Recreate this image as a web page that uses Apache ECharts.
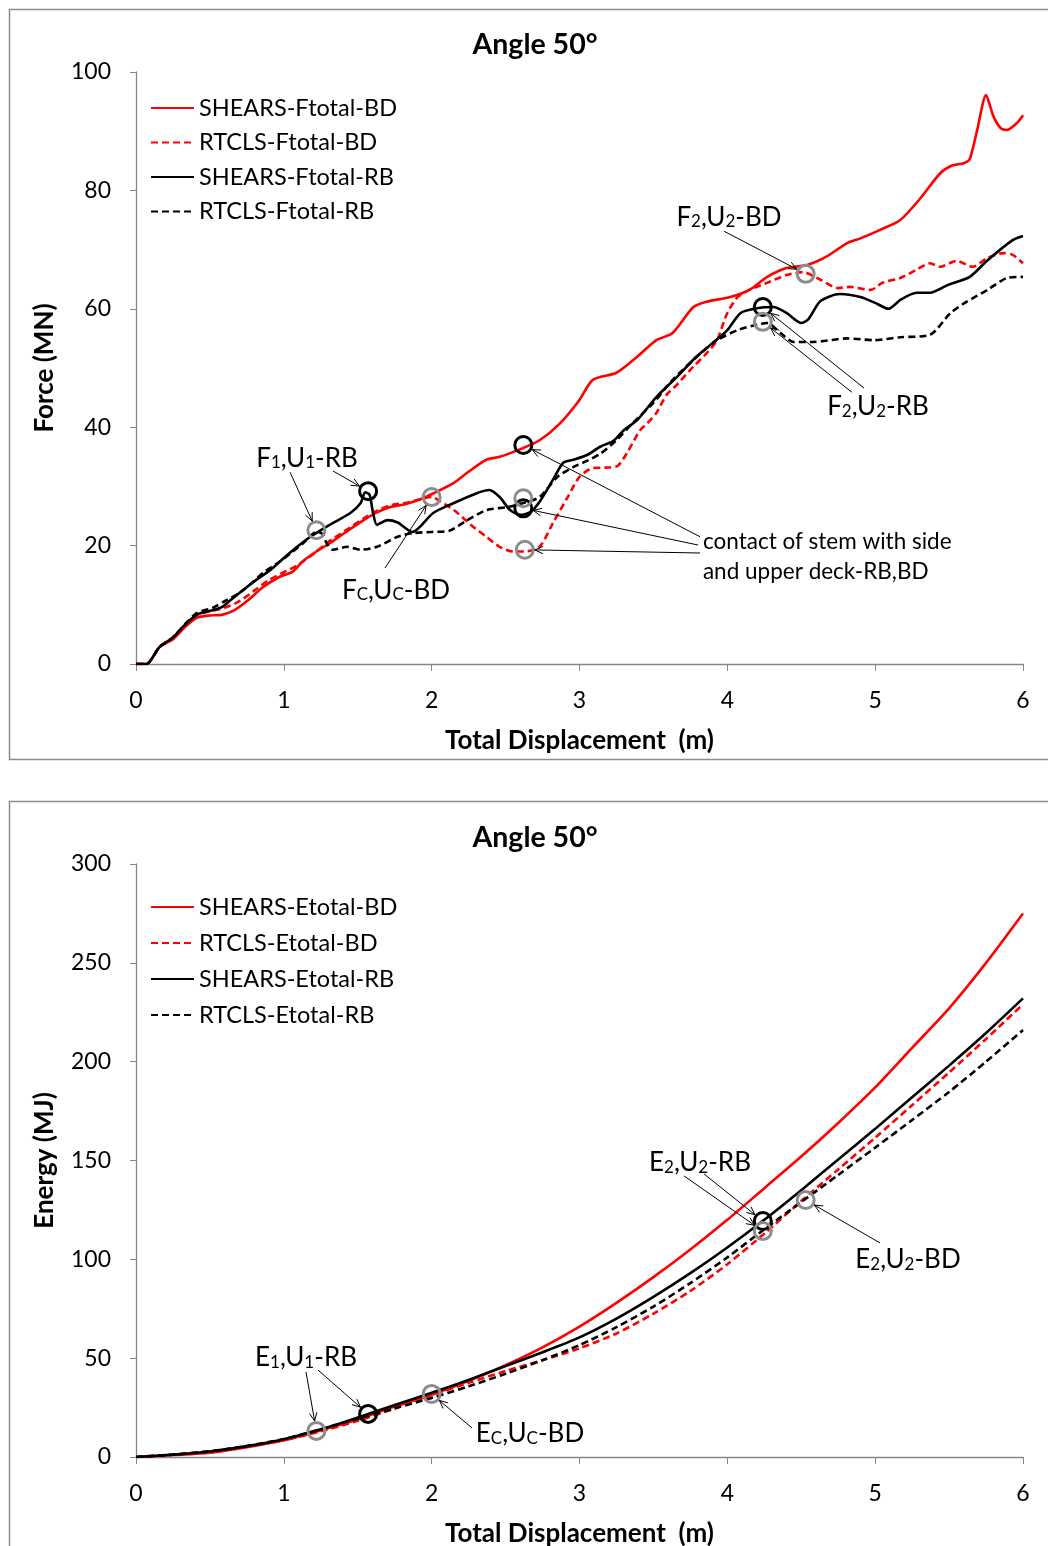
<!DOCTYPE html>
<html>
<head>
<meta charset="utf-8">
<script src="https://cdn.jsdelivr.net/npm/echarts@6/dist/echarts.min.js"></script>
<style>
  html, body { margin: 0; padding: 0; background: #fff; }
  #chart { width: 1048px; height: 1546px; }
</style>
</head>
<body>
<div id="chart"></div>
<script>
// ---- axis ticks ----
const displacementTicks = [0, 1, 2, 3, 4, 5, 6];
const forceTicks = [0, 20, 40, 60, 80, 100];
const energyTicks = [0, 50, 100, 150, 200, 250, 300];

// ---- series names ----
const forceNames = ['SHEARS-Ftotal-BD', 'RTCLS-Ftotal-BD', 'SHEARS-Ftotal-RB', 'RTCLS-Ftotal-RB'];
const energyNames = ['SHEARS-Etotal-BD', 'RTCLS-Etotal-BD', 'SHEARS-Etotal-RB', 'RTCLS-Etotal-RB'];

// ---- force vs displacement [m, MN] ----
const shearsForceBD = [[0,0],[0.07,0],[0.16,2.9],[0.25,4.2],[0.33,6.2],[0.41,7.8],[0.5,8.2],[0.58,8.3],[0.66,9.0],[0.76,10.8],[0.86,13.0],[0.97,14.7],[1.06,15.6],[1.13,17.4],[1.22,19.0],[1.31,20.4],[1.42,22.3],[1.54,24.3],[1.63,25.6],[1.72,26.5],[1.82,27.0],[1.92,27.8],[2.01,28.8],[2.15,30.6],[2.24,32.3],[2.37,34.5],[2.46,35.0],[2.6,36.3],[2.73,37.8],[2.87,40.7],[3.0,44.6],[3.09,48.0],[3.25,49.2],[3.39,51.9],[3.52,54.7],[3.63,55.9],[3.77,60.3],[3.86,61.2],[4.02,62.0],[4.15,63.2],[4.27,65.4],[4.4,66.9],[4.54,67.4],[4.67,68.8],[4.81,71.1],[4.9,71.9],[5.03,73.3],[5.17,75.0],[5.3,78.5],[5.44,82.9],[5.52,84.2],[5.6,84.6],[5.64,85.3],[5.69,90.2],[5.75,96.1],[5.8,92.5],[5.85,90.5],[5.89,90.2],[5.96,91.4],[6.0,92.7]];
const rtclsForceBD = [[0,0],[0.07,0],[0.16,2.9],[0.25,4.3],[0.33,6.5],[0.41,8.3],[0.5,8.9],[0.6,9.5],[0.7,10.6],[0.8,12.4],[0.9,14.2],[1.0,15.5],[1.1,16.8],[1.2,18.6],[1.3,20.6],[1.42,22.6],[1.54,24.6],[1.63,25.9],[1.72,26.8],[1.82,27.2],[1.92,27.8],[2.0,28.2],[2.05,27.6],[2.15,26.0],[2.28,23.2],[2.37,21.5],[2.46,19.8],[2.55,19.0],[2.63,19.0],[2.73,19.8],[2.82,23.8],[2.92,28.2],[3.0,31.6],[3.09,33.1],[3.2,33.2],[3.26,33.5],[3.32,35.6],[3.41,39.5],[3.46,40.7],[3.52,42.4],[3.59,45.5],[3.66,47.2],[3.75,49.7],[3.86,52.5],[3.93,54.7],[4.0,59.3],[4.07,62.0],[4.15,63.2],[4.27,64.4],[4.4,65.7],[4.51,66.2],[4.63,64.9],[4.75,63.5],[4.83,63.7],[4.97,63.2],[5.05,64.4],[5.17,65.2],[5.28,66.6],[5.37,67.7],[5.44,67.1],[5.55,68.1],[5.66,67.1],[5.76,68.6],[5.87,69.4],[5.93,69.1],[6.0,67.7]];
const shearsForceRB = [[0,0],[0.07,0],[0.16,2.9],[0.25,4.5],[0.33,6.6],[0.41,8.3],[0.47,8.8],[0.52,9.1],[0.58,9.6],[0.64,10.8],[0.75,13.0],[0.83,14.5],[0.91,15.9],[1.0,17.9],[1.09,19.8],[1.18,21.5],[1.31,23.5],[1.45,25.5],[1.52,27.2],[1.55,29.0],[1.58,28.6],[1.6,26.0],[1.63,23.5],[1.7,24.3],[1.77,23.9],[1.87,22.3],[2.01,25.5],[2.15,27.2],[2.31,28.9],[2.39,29.4],[2.46,28.2],[2.53,26.0],[2.6,25.2],[2.67,25.7],[2.73,27.4],[2.82,31.1],[2.89,34.0],[2.96,34.5],[3.05,35.3],[3.14,36.7],[3.23,37.7],[3.3,39.5],[3.39,41.2],[3.52,45.1],[3.66,48.5],[3.79,51.9],[3.9,54.2],[4.0,56.4],[4.09,59.3],[4.2,60.1],[4.31,60.3],[4.4,59.3],[4.5,57.6],[4.55,58.3],[4.63,61.3],[4.76,62.5],[4.9,62.0],[5.0,61.0],[5.09,60.0],[5.17,61.5],[5.28,62.7],[5.37,62.7],[5.49,64.0],[5.64,65.4],[5.76,68.2],[5.93,71.6],[6.0,72.3]];
const rtclsForceRB = [[0,0],[0.07,0],[0.16,2.9],[0.25,4.5],[0.33,6.7],[0.41,8.6],[0.52,9.5],[0.6,10.6],[0.7,12.0],[0.78,13.6],[0.86,15.4],[1.0,17.8],[1.13,20.4],[1.22,22.3],[1.26,22.0],[1.29,20.4],[1.33,19.3],[1.43,19.8],[1.52,19.3],[1.63,19.8],[1.77,21.5],[1.87,22.1],[2.0,22.3],[2.12,22.5],[2.24,24.3],[2.37,26.0],[2.51,26.5],[2.62,27.2],[2.73,28.2],[2.85,31.6],[2.96,33.3],[3.05,34.3],[3.14,35.5],[3.25,37.8],[3.36,40.7],[3.5,44.1],[3.63,48.0],[3.82,52.5],[3.93,54.7],[4.07,56.4],[4.2,57.3],[4.27,57.6],[4.36,55.9],[4.45,54.4],[4.58,54.4],[4.81,55.0],[4.99,54.7],[5.17,55.2],[5.37,55.6],[5.51,59.3],[5.62,61.2],[5.76,63.2],[5.89,65.2],[6.0,65.4]];

// ---- energy vs displacement [m, MJ] ----
const shearsEnergyBD = [[0,0],[0.25,1.0],[0.5,2.2],[0.75,5.0],[1,8.5],[1.25,13.5],[1.5,19.0],[1.75,25.5],[2,31.5],[2.25,38.5],[2.5,46.5],[2.75,55.5],[3,66],[3.25,78],[3.5,91],[3.75,105],[4,120],[4.25,136],[4.5,152],[4.75,169],[5,187],[5.25,207],[5.5,227],[5.75,250],[6,275]];
const rtclsEnergyBD = [[0,0],[0.25,1.2],[0.5,2.8],[0.75,5.3],[1,8.5],[1.25,13.0],[1.5,18.3],[1.75,24.5],[2,31.3],[2.25,37.5],[2.5,43.5],[2.75,49],[3,55],[3.25,62.5],[3.5,72.5],[3.75,84],[4,97.5],[4.25,113],[4.5,129.5],[4.75,145.5],[5,161.5],[5.25,178],[5.5,194.5],[5.75,211.5],[6,229]];
const shearsEnergyRB = [[0,0],[0.25,1.2],[0.5,2.8],[0.75,5.5],[1,9.0],[1.25,14.0],[1.5,20.0],[1.75,26.3],[2,32.5],[2.25,39],[2.5,46],[2.75,53],[3,60.5],[3.25,70],[3.5,81],[3.75,93],[4,106],[4.25,120],[4.5,135],[4.75,150.5],[5,166],[5.25,182],[5.5,198],[5.75,214.5],[6,232]];
const rtclsEnergyRB = [[0,0],[0.25,1.2],[0.5,2.9],[0.75,5.6],[1,9.1],[1.25,14.0],[1.5,19.4],[1.75,24.6],[2,29.9],[2.25,35.8],[2.5,42.1],[2.75,49],[3,56.6],[3.25,65.7],[3.5,76.1],[3.75,88],[4,101],[4.25,115.2],[4.5,129],[4.75,142.7],[5,156.5],[5.25,170.5],[5.5,184.7],[5.75,200],[6,216]];

// ---- highlighted points (U, F) and (U, E) ----
const forcePointsRB = [[1.57,29.2],[2.62,37.0],[2.62,26.3],[4.24,60.3]];
const forcePointsBD = [[1.22,22.6],[2.0,28.2],[2.62,28.0],[2.63,19.3],[4.53,65.9],[4.24,57.8]];
const energyPointsRB = [[1.57,21.8],[4.24,119.4]];
const energyPointsBD = [[1.22,13.2],[2.0,31.9],[4.24,114.3],[4.53,130]];

const FONT = 'Lato, "Noto Sans", "Liberation Sans", sans-serif';
const RED = '#ff0000', BLACK = '#000000', GREY = '#8c8c8c', AXIS = '#868686';

const chart = echarts.init(document.getElementById('chart'), null, { renderer: 'canvas' });

function lineSeries(name, data, color, dashed, idx) {
  return {
    name, type: 'line', data, xAxisIndex: idx, yAxisIndex: idx,
    symbol: 'none', showSymbol: false, smooth: 0.25,
    lineStyle: { color, width: 2.6, type: dashed ? [7, 4] : 'solid' },
    itemStyle: { color },
    z: 3
  };
}
function ringSeries(data, color, idx) {
  return {
    type: 'scatter', data, xAxisIndex: idx, yAxisIndex: idx,
    symbol: 'circle', symbolSize: 17,
    itemStyle: { color: 'transparent', borderColor: color, borderWidth: 3, opacity: 1 },
    silent: true, z: 5
  };
}
function xAxisCfg(idx) {
  return {
    type: 'value', gridIndex: idx, min: 0, max: 6, interval: 1,
    name: 'Total Displacement  (m)', nameLocation: 'middle', nameGap: 64,
    nameTextStyle: { fontFamily: FONT, fontSize: 26, fontWeight: 'bold', color: '#000' },
    axisLine: { show: true, lineStyle: { color: AXIS, width: 1.3 } },
    axisTick: { show: true, inside: false, length: 7, lineStyle: { color: AXIS } },
    axisLabel: { fontFamily: FONT, fontSize: 23, color: '#000', margin: 25 },
    splitLine: { show: false }
  };
}
function yAxisCfg(idx, name, max, interval) {
  return {
    type: 'value', gridIndex: idx, min: 0, max, interval,
    name, nameLocation: 'middle', nameGap: 78,
    nameTextStyle: { fontFamily: FONT, fontSize: 26, fontWeight: 'bold', color: '#000' },
    axisLine: { show: true, lineStyle: { color: AXIS, width: 1.3 } },
    axisTick: { show: true, inside: false, length: 6, lineStyle: { color: AXIS } },
    axisLabel: { fontFamily: FONT, fontSize: 23, color: '#000', margin: 25 },
    splitLine: { show: false }
  };
}
function legendCfg(names, top, gap) {
  return {
    data: names, orient: 'vertical', left: 145, top,
    itemWidth: 43, itemHeight: 2, itemGap: gap,
    itemStyle: { opacity: 0, borderWidth: 0 },
    textStyle: { fontFamily: FONT, fontSize: 23.5, color: '#000' },
    selectedMode: false
  };
}

chart.setOption({
  animation: false,
  backgroundColor: '#fff',
  title: [
    { text: 'Angle 50°', left: 530, top: 25, textAlign: 'center',
      textStyle: { fontFamily: FONT, fontSize: 28.5, fontWeight: 'bold', color: '#000' } },
    { text: 'Angle 50°', left: 530, top: 818, textAlign: 'center',
      textStyle: { fontFamily: FONT, fontSize: 28.5, fontWeight: 'bold', color: '#000' } }
  ],
  legend: [legendCfg(forceNames, 91, 10.5), legendCfg(energyNames, 890, 12)],
  grid: [
    { left: 136, top: 72, width: 887, height: 592, outerBoundsMode: 'none' },
    { left: 136, top: 864, width: 887, height: 593, outerBoundsMode: 'none' }
  ],
  xAxis: [xAxisCfg(0), xAxisCfg(1)],
  yAxis: [yAxisCfg(0, 'Force (MN)', 100, 20), yAxisCfg(1, 'Energy (MJ)', 300, 50)],
  series: [
    lineSeries(forceNames[0], shearsForceBD, RED, false, 0),
    lineSeries(forceNames[1], rtclsForceBD, RED, true, 0),
    lineSeries(forceNames[2], shearsForceRB, BLACK, false, 0),
    lineSeries(forceNames[3], rtclsForceRB, BLACK, true, 0),
    ringSeries(forcePointsRB, BLACK, 0),
    ringSeries(forcePointsBD, GREY, 0),
    lineSeries(energyNames[0], shearsEnergyBD, RED, false, 1),
    lineSeries(energyNames[1], rtclsEnergyBD, RED, true, 1),
    lineSeries(energyNames[2], shearsEnergyRB, BLACK, false, 1),
    lineSeries(energyNames[3], rtclsEnergyRB, BLACK, true, 1),
    ringSeries(energyPointsRB, BLACK, 1),
    ringSeries(energyPointsBD, GREY, 1)
  ]
});

// ---- callouts: label anchor and arrows in data units ----
const callouts = [
  { grid: 0, text: '{n|F}{s|1}{n|,U}{s|1}{n|-RB}', at: [1.157, 35.1], align: 'center',
    arrows: [[[1.042, 32.4], forcePointsBD[0]], [[1.333, 32.6], forcePointsRB[0]]] },
  { grid: 0, text: '{n|F}{s|C}{n|,U}{s|C}{n|-BD}', at: [1.759, 12.8], align: 'center',
    arrows: [[[1.684, 16.2], forcePointsBD[1]]] },
  { grid: 0, text: '{m|contact of stem with side}\n{m|and upper deck-RB,BD}', at: [3.835, 18.1], align: 'left',
    arrows: [[[3.815, 21.5], forcePointsRB[1]], [[3.802, 20.1], forcePointsRB[2]], [[3.815, 18.75], forcePointsBD[3]]] },
  { grid: 0, text: '{n|F}{s|2}{n|,U}{s|2}{n|-BD}', at: [4.011, 75.8], align: 'center',
    arrows: [[[3.978, 73.1], forcePointsBD[4]]] },
  { grid: 0, text: '{n|F}{s|2}{n|,U}{s|2}{n|-RB}', at: [5.019, 43.75], align: 'center',
    arrows: [[[4.925, 46.6], forcePointsRB[3]], [[4.843, 45.9], forcePointsBD[5]]] },
  { grid: 1, text: '{n|E}{s|1}{n|,U}{s|1}{n|-RB}', at: [1.15, 51.1], align: 'center',
    arrows: [[[1.15, 43.0], energyPointsBD[0]], [[1.231, 44.0], energyPointsRB[0]]] },
  { grid: 1, text: '{n|E}{s|C}{n|,U}{s|C}{n|-BD}', at: [2.665, 12.6], align: 'center',
    arrows: [[[2.273, 14.7], energyPointsBD[1]]] },
  { grid: 1, text: '{n|E}{s|2}{n|,U}{s|2}{n|-RB}', at: [3.815, 149.7], align: 'center',
    arrows: [[[3.707, 142.2], energyPointsBD[2]], [[3.842, 143.2], energyPointsRB[1]]] },
  { grid: 1, text: '{n|E}{s|2}{n|,U}{s|2}{n|-BD}', at: [5.222, 100.7], align: 'center',
    arrows: [[[5.033, 108.3], energyPointsBD[3]]] }
];

const richStyles = {
  n: { fontFamily: FONT, fontSize: 26, color: '#000', verticalAlign: 'bottom', lineHeight: 30 },
  s: { fontFamily: FONT, fontSize: 17, color: '#000', verticalAlign: 'bottom', lineHeight: 24 },
  m: { fontFamily: FONT, fontSize: 22.5, color: '#000', lineHeight: 30 }
};

function toPx(grid, p) {
  return chart.convertToPixel({ xAxisIndex: grid, yAxisIndex: grid }, [p[0], p[1]]);
}
function arrowShapes(s, t, r) {
  const dx = t[0] - s[0], dy = t[1] - s[1];
  const len = Math.hypot(dx, dy);
  const ux = dx / len, uy = dy / len;
  const ex = t[0] - ux * r, ey = t[1] - uy * r;
  const head = 9, a = 0.42, c = Math.cos(a), sn = Math.sin(a);
  const bx = -ux, by = -uy;
  const p1 = [ex + head * (bx * c - by * sn), ey + head * (bx * sn + by * c)];
  const p2 = [ex + head * (bx * c + by * sn), ey + head * (-bx * sn + by * c)];
  return [
    { type: 'line', shape: { x1: s[0], y1: s[1], x2: ex, y2: ey }, style: { stroke: '#000', lineWidth: 1 }, z: 10 },
    { type: 'polyline', shape: { points: [p1, [ex, ey], p2] }, style: { stroke: '#000', lineWidth: 1, fill: null }, z: 10 }
  ];
}

const graphics = [
  // panel frames
  { type: 'rect', shape: { x: 9.5, y: 9.5, width: 1100, height: 750 }, style: { fill: null, stroke: '#8c8c8c', lineWidth: 1.5 }, z: 0 },
  { type: 'rect', shape: { x: 9.5, y: 801.5, width: 1100, height: 800 }, style: { fill: null, stroke: '#8c8c8c', lineWidth: 1.5 }, z: 0 }
];
callouts.forEach(cl => {
  const p = toPx(cl.grid, cl.at);
  graphics.push({
    type: 'text', x: p[0], y: p[1], z: 10,
    style: { text: cl.text, rich: richStyles, align: cl.align, verticalAlign: 'middle', fill: '#000' }
  });
  cl.arrows.forEach(([from, to]) => {
    graphics.push(...arrowShapes(toPx(cl.grid, from), toPx(cl.grid, to), 10));
  });
});
chart.setOption({ graphic: graphics });
</script>
</body>
</html>
